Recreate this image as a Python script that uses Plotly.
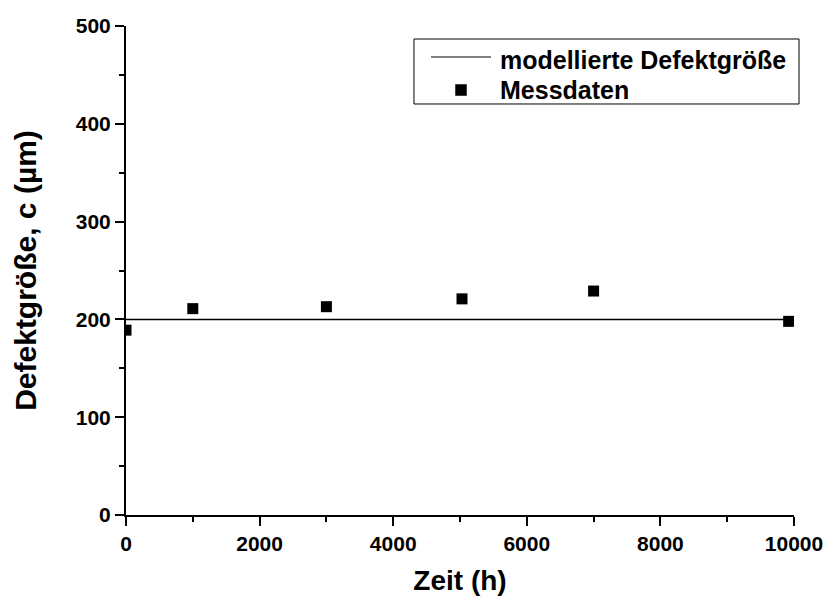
import plotly.graph_objects as go

# Messdaten: Zeit (h) und gemessene Defektgröße (µm)
zeit_mess = [0, 1000, 3000, 5030, 7000, 9920]
groesse_mess = [189, 211, 213, 221, 229, 198]

# Modellierte Defektgröße (konstant)
zeit_modell = [0, 10000]
groesse_modell = [200, 200]

x_ticks = [0, 2000, 4000, 6000, 8000, 10000]
y_ticks = [0, 100, 200, 300, 400, 500]

legend_labels = ["modellierte Defektgröße", "Messdaten"]

FONT = "Arial"

fig = go.Figure()
fig.add_trace(go.Scatter(
    x=zeit_modell, y=groesse_modell, mode="lines",
    name=legend_labels[0], showlegend=False,
    line=dict(color="black", width=1.5),
))
fig.add_trace(go.Scatter(
    x=zeit_mess, y=groesse_mess, mode="markers",
    name=legend_labels[1], showlegend=False,
    marker=dict(symbol="square", size=11, color="black"),
))

axis_common = dict(
    showline=True, linecolor="black", linewidth=2,
    ticks="outside", ticklen=9, tickwidth=2, tickcolor="black",
    showgrid=False, zeroline=False, automargin=False,
    tickfont=dict(family=FONT, size=21, color="black", weight="bold"),
    mirror=False,
)

fig.update_xaxes(
    range=[0, 10000], tickvals=x_ticks, ticktext=[str(v) for v in x_ticks],
    minor=dict(ticks="outside", ticklen=5, tickwidth=2, tickcolor="black", dtick=1000),
    title=dict(text="<b>Zeit (h)</b>", font=dict(family=FONT, size=28, color="black"), standoff=16),
    **axis_common,
)
fig.update_yaxes(
    range=[0, 500], tickvals=y_ticks, ticktext=[str(v) for v in y_ticks],
    minor=dict(ticks="outside", ticklen=5, tickwidth=2, tickcolor="black", dtick=50),
    title=dict(text="<b>Defektgröße, c (µm)</b>", font=dict(family=FONT, size=30, color="black"), standoff=30),
    **axis_common,
)

# Legendenkasten mit Linien- und Symbolmuster (Papierkoordinaten)
box = dict(x0=0.4311, x1=1.0075, y0=0.8405, y1=0.9734)
row_y = [0.9366, 0.8691]
row_shift = [-3, 0]
sym_x = 0.5015
text_x = 0.5569

shapes = [
    dict(type="rect", xref="paper", yref="paper", **box,
         line=dict(color="black", width=1), fillcolor="white", layer="above"),
    dict(type="line", xref="paper", yref="paper",
         x0=0.4566, x1=0.5464, y0=row_y[0], y1=row_y[0],
         line=dict(color="#555555", width=1.5), layer="above"),
    dict(type="rect", xref="paper", yref="paper",
         x0=sym_x - 0.0086, x1=sym_x + 0.0086,
         y0=row_y[1] - 0.0118, y1=row_y[1] + 0.0118,
         line=dict(width=0), fillcolor="black", layer="above"),
]
annotations = [
    dict(x=text_x, y=yy, xref="paper", yref="paper", xanchor="left", yanchor="middle",
         yshift=sh, text=f"<b>{lab}</b>", showarrow=False,
         font=dict(family=FONT, size=25, color="black"))
    for lab, yy, sh in zip(legend_labels, row_y, row_shift)
]

fig.update_layout(
    width=826, height=599,
    margin=dict(l=126, r=32, t=26, b=84),
    plot_bgcolor="white", paper_bgcolor="white",
    showlegend=False,
    shapes=shapes,
    annotations=annotations,
)

fig.write_html("out.html")
